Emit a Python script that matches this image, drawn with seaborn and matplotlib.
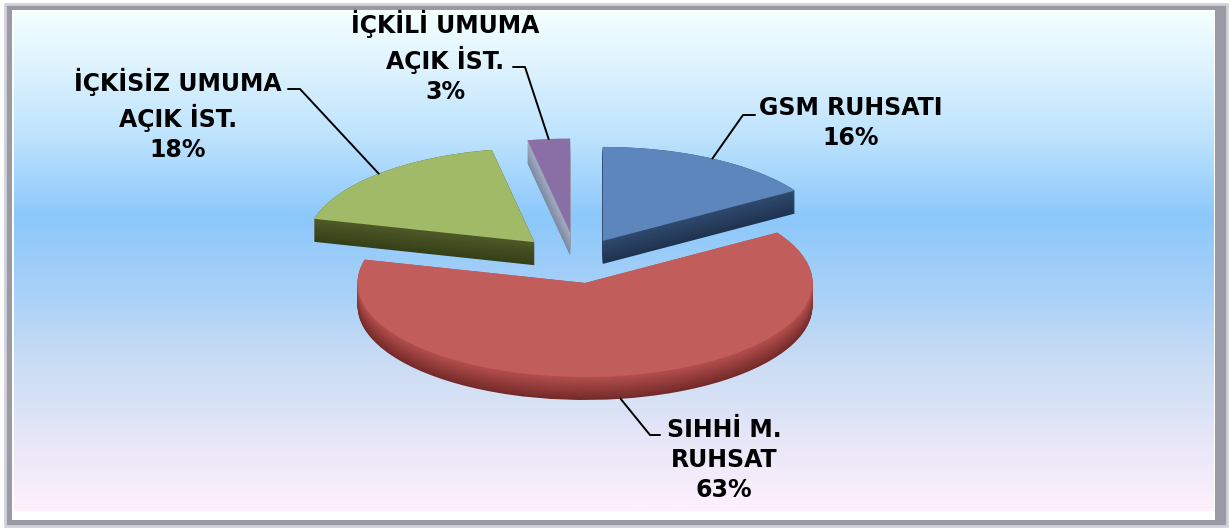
import numpy as np
import matplotlib
matplotlib.use("Agg")
import matplotlib.pyplot as plt
import seaborn as sns
from matplotlib.colors import LinearSegmentedColormap, to_rgb
from matplotlib.patches import Rectangle

# slices, clockwise from 12 o'clock
labels = ["GSM RUHSATI", "SIHHİ M.\nRUHSAT", "İÇKİSİZ UMUMA\nAÇIK İST.", "İÇKİLİ UMUMA\nAÇIK İST."]
values = [16, 63, 18, 3]

top_colors = ["#5d86bc", "#c15e5c", "#a0ba68", "#8a6fa6"]
side_hi = ["#2f4a6e", "#b4504e", "#4e5b28", "#a3aec2"]
side_lo = ["#1f3350", "#742a29", "#353f18", "#7e8aa0"]
explode = [0.24, 0.24, 0.27, 0.30]

# label centre and leader elbow, in picture pixels (from top-left)
label_xy = [(851, 123), (724, 460), (178, 115), (445, 57)]
elbow_a = [(755, 115), (660, 435), (288, 89), (513, 67)]
elbow_b = [(743, 115), (650, 435), (300, 89), (525, 67)]

W, H = 1231, 529
sns.set_style("white")
plt.rcParams["font.family"] = ["DejaVu Sans"]

fig = plt.figure(figsize=(W / 100, H / 100), dpi=100)
fig.patch.set_facecolor("white")

# bevelled frame
fig.patches.append(Rectangle((5 / W, 3 / H), 1222 / W, 522 / H, transform=fig.transFigure,
                             facecolor="#9a9aa5", edgecolor="#d2d2da", linewidth=2, zorder=-3))
fig.patches.append(Rectangle((12 / W, 9 / H), 1203 / W, 510 / H, transform=fig.transFigure,
                             facecolor="white", edgecolor="none", zorder=-2))

# gradient backdrop
bg = fig.add_axes([14 / W, (H - 511) / H, 1200 / W, 499 / H])
stops = [(0.0, "#f2ffff"), (0.1, "#e0f4fe"), (0.25, "#bde3fd"), (0.41, "#8cc8fb"),
         (0.55, "#a6d0f8"), (0.7, "#c9dcf4"), (0.85, "#e5e6f8"), (1.0, "#fff0fc")]
cmap = LinearSegmentedColormap.from_list("bg", stops)
bg.imshow(np.linspace(0, 1, 256)[:, None], aspect="auto", cmap=cmap, extent=(0, 1, 1, 0))
bg.set_axis_off()

# pie axes over the whole figure; 1 unit = 227.5 px wide, 94 px tall
cx, cy, rx, ry = 576.5, 260.7, 227.5, 94.0
ax = fig.add_axes([0, 0, 1, 1])
ax.patch.set_alpha(0)

depth = 23 / ry
n_layers = 30
for k in range(n_layers):
    t = k / (n_layers - 1)
    dz = depth * (1 - t)
    cols = [tuple(np.array(to_rgb(lo)) * (1 - t) + np.array(to_rgb(hi)) * t)
            for lo, hi in zip(side_lo, side_hi)]
    ax.pie(values, explode=explode, startangle=90, counterclock=False, colors=cols,
           center=(0, -dz), wedgeprops=dict(linewidth=0))

wedges, _ = ax.pie(values, explode=explode, startangle=90, counterclock=False,
                   colors=top_colors, wedgeprops=dict(linewidth=0))

ax.set_aspect("auto")
ax.set_xlim(-cx / rx, (W - cx) / rx)
ax.set_ylim((cy - H) / ry, cy / ry)
ax.set_axis_off()


def px(p):
    return ((p[0] - cx) / rx, (cy - p[1]) / ry)


total = sum(values)
for w, lab, v, lxy, ea, eb in zip(wedges, labels, values, label_xy, elbow_a, elbow_b):
    mid = np.deg2rad((w.theta1 + w.theta2) / 2)
    rim = [w.center[0] + w.r * np.cos(mid), w.center[1] + w.r * np.sin(mid)]
    if np.sin(mid) < 0:
        rim[1] -= depth
    a, b = px(ea), px(eb)
    ax.plot([a[0], b[0], rim[0]], [a[1], b[1], rim[1]], color="black", lw=1.4)
    tx, ty = px(lxy)
    ax.text(tx, ty, f"{lab}\n{v / total * 100:.0f}%", ha="center", va="center",
            ma="center", fontsize=17, fontweight="bold", linespacing=1.33, color="black")

fig.savefig("out.png", dpi=100)
